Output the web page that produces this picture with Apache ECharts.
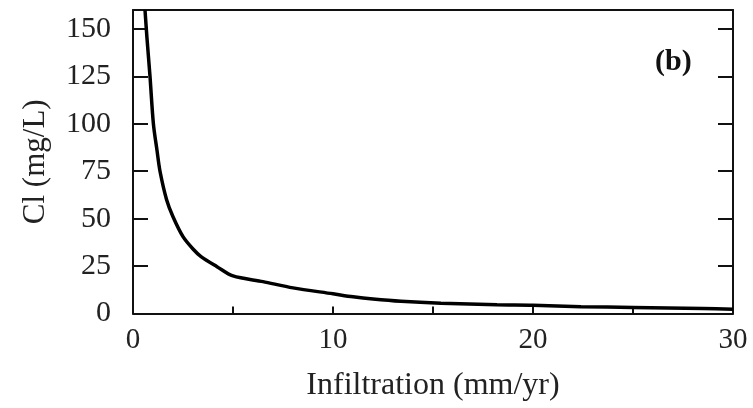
<!DOCTYPE html>
<html>
<head>
<meta charset="utf-8">
<script src="https://cdn.jsdelivr.net/npm/echarts@6/dist/echarts.min.js"></script>
<style>
  html, body { margin: 0; padding: 0; background: #fff; }
  #chart { width: 753px; height: 408px; }
</style>
</head>
<body>
<div id="chart"></div>
<script>
// Chloride concentration against infiltration rate
const infiltration = [0.6, 0.7, 0.85, 1.02, 1.2, 1.35, 1.68, 2.0, 2.5, 3.0, 3.4, 4.2, 5.0, 6.5, 8.0, 10.0, 11.0, 12.0, 13.4, 15.4, 18.2, 20.0, 22.4, 25.0, 28.5, 30.0];
const chloride     = [160, 145, 125, 100, 86, 75, 60, 51, 40.5, 34, 30, 24.7, 19.8, 16.8, 13.5, 10.4, 8.8, 7.6, 6.4, 5.4, 4.6, 4.4, 3.6, 3.2, 2.6, 2.2];
const xTicks = [0, 10, 20, 30];
const yTicks = [0, 25, 50, 75, 100, 125, 150];
const panelTag = '(b)';

const FONT = '"Liberation Serif", "DejaVu Serif", serif';
const points = infiltration.map((x, i) => [x, chloride[i]]);

const frameLine = { show: true, onZero: false, lineStyle: { color: '#111', width: 2 } };

const chart = echarts.init(document.getElementById('chart'), null, { renderer: 'canvas' });
chart.setOption({
  animation: false,
  backgroundColor: '#fff',
  grid: { left: 133, right: 20, top: 10, bottom: 94.5, containLabel: false },
  title: {
    text: panelTag,
    left: 650, top: 42,
    textStyle: { fontFamily: FONT, fontSize: 30, fontWeight: 'bold', color: '#111' }
  },
  xAxis: [
    {
      type: 'value', min: 0, max: 30, interval: 5, position: 'bottom',
      name: 'Infiltration (mm/yr)', nameLocation: 'middle', nameGap: 56,
      nameTextStyle: { fontFamily: FONT, fontSize: 32, color: '#222' },
      axisLine: frameLine,
      axisTick: { show: true, inside: true, length: 7, lineStyle: { color: '#111', width: 2 } },
      axisLabel: {
        fontFamily: FONT, fontSize: 29, color: '#222', margin: 12,
        formatter: v => xTicks.includes(v) ? String(v) : ''
      },
      splitLine: { show: false }
    },
    {
      type: 'value', min: 0, max: 30, interval: 5, position: 'top',
      axisLine: frameLine, axisTick: { show: false }, axisLabel: { show: false }, splitLine: { show: false }
    }
  ],
  yAxis: [
    {
      type: 'value', min: 0, max: 160, interval: 25, position: 'left',
      name: 'Cl (mg/L)', nameLocation: 'middle', nameGap: 82, nameRotate: 90,
      nameTextStyle: { fontFamily: FONT, fontSize: 31, color: '#222' },
      axisLine: frameLine,
      axisTick: { show: true, inside: true, length: 15, lineStyle: { color: '#111', width: 2 } },
      axisLabel: {
        fontFamily: FONT, fontSize: 30, color: '#222', margin: 22,
        formatter: v => yTicks.includes(v) ? String(v) : ''
      },
      splitLine: { show: false }
    },
    {
      type: 'value', min: 0, max: 160, interval: 25, position: 'right',
      axisLine: frameLine,
      axisTick: { show: true, inside: true, length: 15, lineStyle: { color: '#111', width: 2 } },
      axisLabel: { show: false },
      splitLine: { show: false }
    }
  ],
  series: [{
    type: 'line',
    data: points,
    xAxisIndex: 0, yAxisIndex: 0,
    showSymbol: false,
    smooth: 0.3,
    clip: true,
    lineStyle: { color: '#000', width: 3.5 }
  }]
});
</script>
</body>
</html>
